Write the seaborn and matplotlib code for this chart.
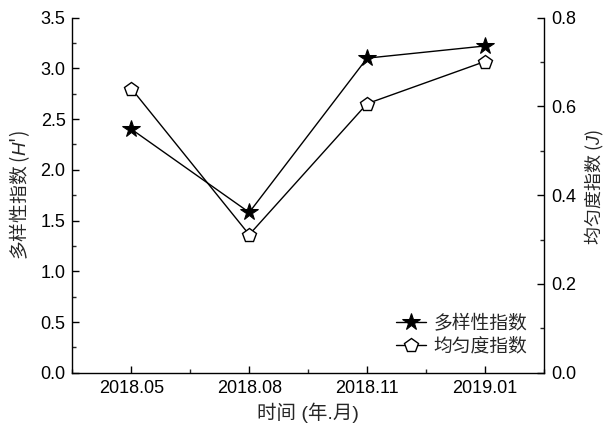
import matplotlib
matplotlib.use("Agg")
import matplotlib.pyplot as plt
from matplotlib.ticker import MultipleLocator, FixedLocator
import seaborn as sns
import pandas as pd

# Sampling dates and index values
months = ["2018.05", "2018.08", "2018.11", "2019.01"]
diversity = [2.40, 1.58, 3.10, 3.22]      # Shannon diversity H'
evenness = [0.640, 0.311, 0.606, 0.701]   # Pielou evenness J

sns.set_theme(style="ticks")
plt.rcParams["font.family"] = ["Liberation Sans", "Noto Sans CJK SC", "DejaVu Sans"]
plt.rcParams["mathtext.fontset"] = "custom"
plt.rcParams["mathtext.it"] = "Liberation Sans:italic"
plt.rcParams["mathtext.rm"] = "Liberation Sans"
plt.rcParams["axes.unicode_minus"] = False

df = pd.DataFrame({"pos": range(len(months)), "month": months,
                   "H": diversity, "J": evenness})

fig = plt.figure(figsize=(6.09, 4.28), dpi=100)
ax = fig.add_axes([0.119, 0.129, 0.774, 0.83])
ax2 = ax.twinx()

sns.lineplot(data=df, x="pos", y="H", ax=ax, color="black", lw=1.0,
             marker="*", markersize=13, markerfacecolor="black",
             markeredgecolor="black", label="多样性指数", legend=False)
sns.lineplot(data=df, x="pos", y="J", ax=ax2, color="black", lw=1.0,
             marker="p", markersize=10, markerfacecolor="white",
             markeredgecolor="black", markeredgewidth=1.0,
             label="均匀度指数", legend=False)

ax.set_xlim(-0.5, len(months) - 0.5)
ax.set_ylim(0, 3.5)
ax2.set_ylim(0, 0.8)

ax.xaxis.set_major_locator(FixedLocator(df["pos"].tolist()))
ax.set_xticklabels(months)
ax.xaxis.set_minor_locator(MultipleLocator(0.5))
ax.yaxis.set_major_locator(MultipleLocator(0.5))
ax.yaxis.set_minor_locator(MultipleLocator(0.25))
ax2.yaxis.set_major_locator(MultipleLocator(0.2))
ax2.yaxis.set_minor_locator(MultipleLocator(0.1))
ax.set_yticklabels([f"{v:.1f}" for v in ax.get_yticks()])
ax2.set_yticklabels([f"{v:.1f}" for v in ax2.get_yticks()])

for a in (ax, ax2):
    a.spines["top"].set_visible(False)
    for s in a.spines.values():
        s.set_linewidth(1.0)
        s.set_color("black")
    a.tick_params(which="major", direction="in", length=5, width=1.0,
                  labelsize=13, colors="black", pad=5)
    a.tick_params(which="minor", direction="in", length=3, width=1.0)
ax.spines["right"].set_visible(False)
ax2.spines["left"].set_visible(False)
ax2.spines["bottom"].set_visible(False)
ax.tick_params(axis="x", which="both", top=False)

cjk = "Noto Sans CJK SC"
ax.set_xlabel("时间 (年.月)", fontsize=14, labelpad=4)
ax.set_ylabel("多样性指数 ($\\mathit{H}$')", fontsize=13.5, labelpad=6,
              fontfamily=cjk)
ax2.set_ylabel("均匀度指数 ($\\mathit{J}$)", fontsize=13,
               rotation=90, fontfamily=cjk)
ax2.yaxis.set_label_coords(1.084, 0.523)

handles = ax.get_lines()[:1] + ax2.get_lines()[:1]
leg = ax.legend(handles, ["多样性指数", "均匀度指数"], loc="lower right",
                bbox_to_anchor=(1.0, 0.0), frameon=False, fontsize=13.5,
                handlelength=1.6, handletextpad=0.4, labelspacing=0.3)

fig.savefig("out.png", dpi=100)
